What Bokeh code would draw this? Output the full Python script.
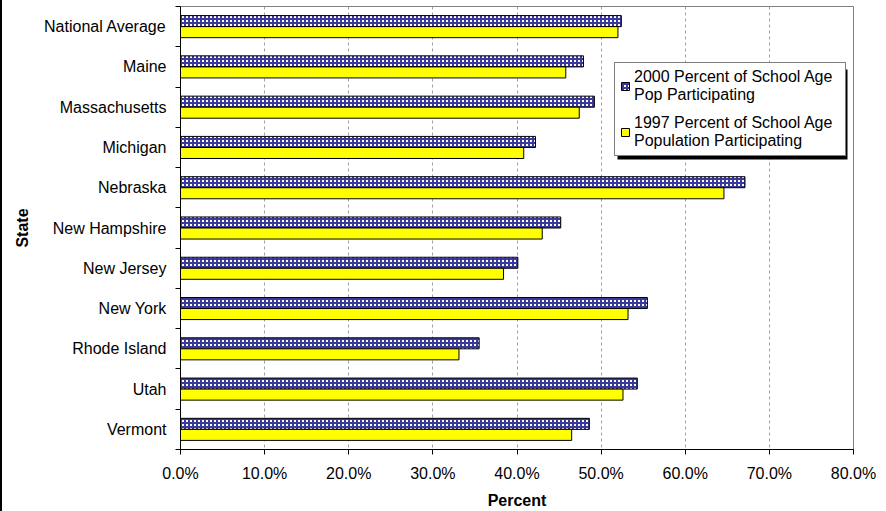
from bokeh.plotting import figure
from bokeh.models import (Range1d, FixedTicker, NumeralTickFormatter, Legend, LegendItem,
                          ColumnDataSource, CustomJSTickFormatter, BoxAnnotation)
from bokeh.transform import dodge
from bokeh.embed import file_html
from bokeh.resources import INLINE

# Participation data (percent of school-age population)
states = ["National Average", "Maine", "Massachusetts", "Michigan", "Nebraska",
          "New Hampshire", "New Jersey", "New York", "Rhode Island", "Utah", "Vermont"]
pct_2000 = [52.4, 47.9, 49.2, 42.2, 67.1, 45.2, 40.1, 55.5, 35.5, 54.3, 48.6]
pct_1997 = [52.0, 45.8, 47.4, 40.8, 64.6, 43.0, 38.4, 53.2, 33.1, 52.6, 46.5]
label_2000 = "2000 Percent of School Age\nPop Participating"
label_1997 = "1997 Percent of School Age\nPopulation Participating"
x_ticks = [0.0, 0.1, 0.2, 0.3, 0.4, 0.5, 0.6, 0.7, 0.8]

FONT = "Liberation Sans"
FS = "16px"

centers = [i + 0.5 for i in range(len(states))]
bounds = [float(i) for i in range(len(states) + 1)]

src = ColumnDataSource(dict(
    pos=centers,
    state=states,
    v2000=[v / 100 for v in pct_2000],
    v1997=[v / 100 for v in pct_1997],
))

p = figure(width=884, height=511, output_backend="svg", toolbar_location=None,
           x_range=Range1d(0, 0.8), y_range=Range1d(len(states), 0),
           min_border_left=178, min_border_right=33, min_border_top=6, min_border_bottom=62)

r2000 = p.hbar(y=dodge("pos", -0.137, range=p.y_range), right="v2000", left=0, height=0.274,
               source=src, fill_color="white", hatch_pattern="cross", hatch_color="#3a3a9a",
               hatch_scale=4, hatch_weight=2, line_color="black", line_width=1)
r1997 = p.hbar(y=dodge("pos", 0.137, range=p.y_range), right="v1997", left=0, height=0.274,
               source=src, fill_color="#ffff00", line_color="black", line_width=1)

# x axis
p.xaxis.ticker = FixedTicker(ticks=x_ticks)
p.xaxis.formatter = NumeralTickFormatter(format="0.0%")
p.xaxis.axis_label = "Percent"
p.xaxis.major_tick_out = 5
p.xaxis.major_tick_in = 0
p.xaxis.minor_tick_line_color = None
p.xaxis.major_label_standoff = 10
p.xaxis.axis_label_standoff = 7

# y axis: labels at category centres, ticks at category boundaries
p.yaxis.ticker = FixedTicker(ticks=centers, minor_ticks=bounds)
p.yaxis.formatter = CustomJSTickFormatter(args=dict(names=states),
                                          code="return names[Math.floor(tick)]")
p.yaxis.major_tick_line_color = None
p.yaxis.major_tick_out = 0
p.yaxis.major_tick_in = 0
p.yaxis.minor_tick_out = 5
p.yaxis.minor_tick_in = 0
p.yaxis.minor_tick_line_color = "black"
p.yaxis.major_label_standoff = 9
p.yaxis.axis_label = "State"
p.yaxis.axis_label_standoff = 10

for ax in (p.xaxis[0], p.yaxis[0]):
    ax.axis_line_color = "black"
    ax.major_label_text_font = FONT
    ax.major_label_text_font_size = FS
    ax.major_label_text_color = "black"
    ax.axis_label_text_font = FONT
    ax.axis_label_text_font_size = FS
    ax.axis_label_text_font_style = "bold"
    ax.axis_label_text_color = "black"

p.xgrid.ticker = FixedTicker(ticks=x_ticks)
p.xgrid.grid_line_color = "#a0a0a0"
p.xgrid.grid_line_dash = "3 3"
p.ygrid.grid_line_color = None

p.outline_line_color = "#808080"
p.outline_line_width = 1
p.background_fill_color = "white"
p.border_fill_color = "white"

# drop shadow behind the legend box (frame-relative pixels)
shadow = BoxAnnotation(left=437, right=667, bottom=290, top=380,
                       left_units="screen", right_units="screen",
                       bottom_units="screen", top_units="screen",
                       fill_color="black", fill_alpha=1, line_color=None)
p.add_layout(shadow)

legend = Legend(items=[LegendItem(label=label_2000, renderers=[r2000]),
                       LegendItem(label=label_1997, renderers=[r1997])],
                location=(434, 293))
legend.label_text_font = FONT
legend.label_text_font_size = FS
legend.label_text_color = "black"
legend.label_text_line_height = 0.95
legend.label_standoff = 4
legend.label_width = 206
legend.glyph_width = 10
legend.glyph_height = 10
legend.border_line_color = "black"
legend.border_line_width = 1
legend.background_fill_alpha = 1
legend.padding = 5
legend.spacing = 10
legend.margin = 0
p.add_layout(legend)

p.styles = {"border-left": "2px solid black"}

open("out.html", "w").write(file_html(p, INLINE))
